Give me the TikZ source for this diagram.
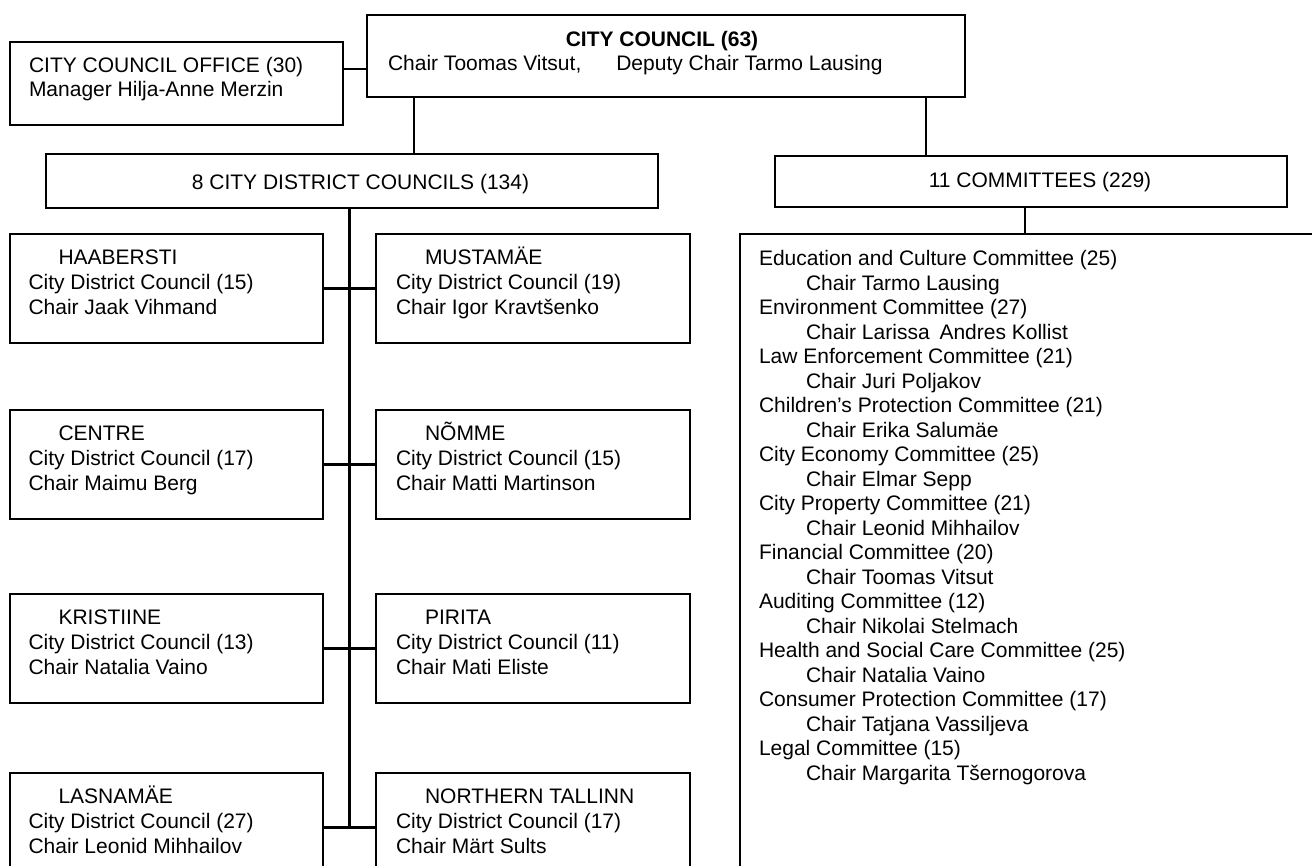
\documentclass[tikz,border=0pt]{standalone}
\usepackage{fontspec}
\setmainfont{Liberation Sans}
\usetikzlibrary{calc}
\newcommand\tstrut{\rule{0pt}{20pt}}
\begin{document}
\begin{tikzpicture}[x=1pt,y=-1pt,
  box/.style={draw=black, line width=2.4pt, rectangle, inner sep=0pt, outer sep=0pt, anchor=north west},
  dbox/.style={box, minimum height=109pt},
  conn/.style={draw=black, line width=2.6pt},
  ttxt/.style={inner sep=0pt, outer sep=0pt, font=\fontsize{21}{23.5}\selectfont},
  dtxt/.style={inner sep=0pt, outer sep=0pt, anchor=north west, align=left, font=\fontsize{21}{25}\selectfont},
  ctxt/.style={inner sep=0pt, outer sep=0pt, anchor=north west, align=left, font=\fontsize{21}{24.52}\selectfont}]
\useasboundingbox (0,0) rectangle (1312,865);
\clip (0,0) rectangle (1312,865);

% top level boxes
\node[box, minimum width=333pt, minimum height=83pt] (office) at (10,42) {};
\node[box, minimum width=598pt, minimum height=82pt] (council) at (367,15) {};
\node[box, minimum width=612pt, minimum height=54pt] (dhead) at (46,154) {};
\node[box, minimum width=512pt, minimum height=51pt] (chead) at (775,156) {};
\node[box, minimum width=600pt, minimum height=660pt] (clist) at (740,234) {};

% district boxes
\node[dbox, minimum width=313pt] (hab) at (10,234) {};
\node[dbox, minimum width=314pt] (mus) at (376,234) {};
\node[dbox, minimum width=313pt] (cen) at (10,410) {};
\node[dbox, minimum width=314pt] (nom) at (376,410) {};
\node[dbox, minimum width=313pt] (kri) at (10,594) {};
\node[dbox, minimum width=314pt] (pir) at (376,594) {};
\node[dbox, minimum width=313pt] (las) at (10,773) {};
\node[dbox, minimum width=314pt] (nor) at (376,773) {};

% texts of top level
\node[ttxt, anchor=north west, align=left] (office-t) at ([shift={(19,10.5)}]office.north west)
  {\tstrut CITY COUNCIL OFFICE (30)\\Manager Hilja-Anne Merzin};
\node[ttxt, anchor=base, font=\fontsize{21}{24}\selectfont\bfseries] (council-t1) at (662,46.5) {CITY COUNCIL (63)};
\node[ttxt, anchor=base west] (council-t2) at (388,70.5) {Chair Toomas Vitsut,\hspace{35pt}Deputy Chair Tarmo Lausing};
\node[ttxt, anchor=base] (dhead-t) at (360.5,189.5) {8 CITY DISTRICT COUNCILS (134)};
\node[ttxt, anchor=base] (chead-t) at (1040,187.5) {11 COMMITTEES (229)};

% district texts
\node[dtxt] (hab-t) at ([shift={(18.5,10)}]hab.north west)
  {\tstrut\hspace*{30pt}HAABERSTI\\City District Council (15)\\Chair Jaak Vihmand};
\node[dtxt] (mus-t) at ([shift={(20,10)}]mus.north west)
  {\tstrut\hspace*{29pt}MUSTAMÄE\\City District Council (19)\\Chair Igor Kravtšenko};
\node[dtxt] (cen-t) at ([shift={(18.5,10)}]cen.north west)
  {\tstrut\hspace*{30pt}CENTRE\\City District Council (17)\\Chair Maimu Berg};
\node[dtxt] (nom-t) at ([shift={(20,10)}]nom.north west)
  {\tstrut\hspace*{29pt}NÕMME\\City District Council (15)\\Chair Matti Martinson};
\node[dtxt] (kri-t) at ([shift={(18.5,10)}]kri.north west)
  {\tstrut\hspace*{30pt}KRISTIINE\\City District Council (13)\\Chair Natalia Vaino};
\node[dtxt] (pir-t) at ([shift={(20,10)}]pir.north west)
  {\tstrut\hspace*{29pt}PIRITA\\City District Council (11)\\Chair Mati Eliste};
\node[dtxt] (las-t) at ([shift={(18.5,10)}]las.north west)
  {\tstrut\hspace*{30pt}LASNAMÄE\\City District Council (27)\\Chair Leonid Mihhailov};
\node[dtxt] (nor-t) at ([shift={(20,10)}]nor.north west)
  {\tstrut\hspace*{29pt}NORTHERN TALLINN\\City District Council (17)\\Chair Märt Sults};

% committee list
\node[ctxt] (clist-t) at ([shift={(19,11.5)}]clist.north west)
  {\tstrut Education and Culture Committee (25)\\
   \hspace*{47pt}Chair Tarmo Lausing\\
   Environment Committee (27)\\
   \hspace*{47pt}Chair Larissa\hspace{4pt} Andres Kollist\\
   Law Enforcement Committee (21)\\
   \hspace*{47pt}Chair Juri Poljakov\\
   Children's Protection Committee (21)\\
   \hspace*{47pt}Chair Erika Salumäe\\
   City Economy Committee (25)\\
   \hspace*{47pt}Chair Elmar Sepp\\
   City Property Committee (21)\\
   \hspace*{47pt}Chair Leonid Mihhailov\\
   Financial Committee (20)\\
   \hspace*{47pt}Chair Toomas Vitsut\\
   Auditing Committee (12)\\
   \hspace*{47pt}Chair Nikolai Stelmach\\
   Health and Social Care Committee (25)\\
   \hspace*{47pt}Chair Natalia Vaino\\
   Consumer Protection Committee (17)\\
   \hspace*{47pt}Chair Tatjana Vassiljeva\\
   Legal Committee (15)\\
   \hspace*{47pt}Chair Margarita Tšernogorova};

% connectors
\coordinate (j1) at (355,69);
\coordinate (j2) at (414,0);
\coordinate (j3) at (926,0);
\coordinate (j4) at (1025,0);
\coordinate (trunk) at ($(hab.east)!0.5!(mus.west)$);
\draw[conn] (office.east |- j1) -- (council.west |- j1);
\draw[conn] (council.south -| j2) -- (dhead.north -| j2);
\draw[conn] (council.south -| j3) -- (chead.north -| j3);
\draw[conn] (chead.south -| j4) -- (clist.north -| j4);
\draw[conn] (dhead.south -| trunk) -- (las.east -| trunk);
\draw[conn] (hab.east) -- (mus.west);
\draw[conn] (cen.east) -- (nom.west);
\draw[conn] (kri.east) -- (pir.west);
\draw[conn] (las.east) -- (nor.west);
\end{tikzpicture}
\end{document}
